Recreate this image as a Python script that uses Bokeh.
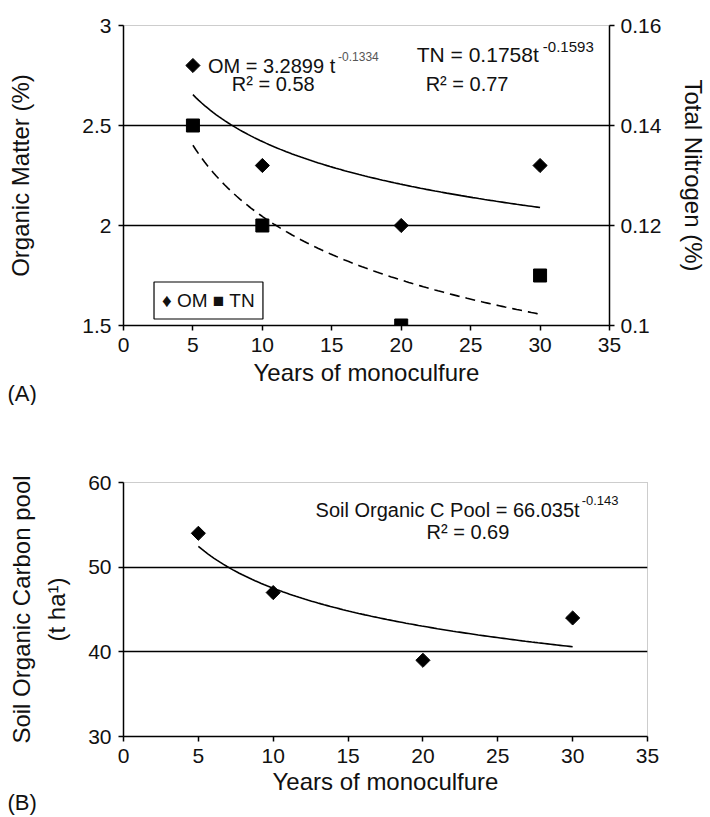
import numpy as np
from bokeh.plotting import figure
from bokeh.models import Range1d, LinearAxis, FixedTicker, CustomJSTickFormatter, Label, Title
from bokeh.layouts import column
from bokeh.embed import file_html
from bokeh.resources import INLINE

FONT = "Liberation Sans"

# ---- data ----
years = [5, 10, 20, 30]
om = [2.8, 2.3, 2.0, 2.3]          # Organic matter (%)
tn = [0.14, 0.12, 0.10, 0.11]      # Total nitrogen (%)
soc = [54, 47, 39, 44]             # Soil organic C pool (t/ha)

x_ticks = [0, 5, 10, 15, 20, 25, 30, 35]
om_ticks = [1.5, 2, 2.5, 3]
tn_ticks = [0.1, 0.12, 0.14, 0.16]
soc_ticks = [30, 40, 50, 60]

# power-law trend lines printed on the chart: y = a * t^b
om_fit = (3.2899, -0.1334)
tn_fit = (0.1758, -0.1593)
soc_fit = (66.035, -0.143)
fit_span = (5, 30)

t = np.linspace(fit_span[0], fit_span[1], 120)
fmt = CustomJSTickFormatter(code="return String(tick)")


def style_axis(ax, ticks, label=None, standoff=10):
    ax.ticker = FixedTicker(ticks=ticks)
    ax.formatter = fmt
    ax.axis_line_color = "black"
    ax.axis_line_width = 1.5
    ax.major_tick_line_color = "black"
    ax.major_tick_line_width = 1.5
    ax.major_tick_in = 0
    ax.major_tick_out = 5
    ax.minor_tick_line_color = None
    ax.major_label_text_font = FONT
    ax.major_label_text_font_size = "21px"
    ax.major_label_text_color = "#111111"
    ax.major_label_standoff = 7
    ax.axis_label = label
    ax.axis_label_standoff = standoff
    ax.axis_label_text_font = FONT
    ax.axis_label_text_font_size = "24px"
    ax.axis_label_text_font_style = "normal"
    ax.axis_label_text_color = "#111111"


def lab(p, x, y, text, size, align="left", color="#111111", **kw):
    p.add_layout(Label(x=x, y=y, text=text, text_font=FONT, text_font_size=size,
                       text_align=align, text_baseline="middle",
                       text_color=color, **kw))


def panel_tag(p, text):
    p.add_layout(Title(text=text, align="left", offset=-116, standoff=-20,
                       vertical_align="bottom", text_font=FONT, text_font_size="22px",
                       text_font_style="normal", text_color="#111111"), "below")


def base_fig(width, height, ylo, yhi, borders):
    p = figure(width=width, height=height, x_range=Range1d(0, 35), y_range=Range1d(ylo, yhi),
               output_backend="svg", toolbar_location=None,
               min_border_left=borders[0], min_border_right=borders[1],
               min_border_top=borders[2], min_border_bottom=borders[3])
    if "frame_align" in p.properties():
        p.frame_align = False
    p.background_fill_color = "white"
    p.border_fill_color = "white"
    p.outline_line_color = "#9a9a9a"
    p.outline_line_width = 1
    p.outline_line_dash = "1 1"
    p.xgrid.visible = False
    p.ygrid.grid_line_color = "black"
    p.ygrid.grid_line_width = 1.3
    return p


# ================= Panel A =================
pA = base_fig(710, 405, om_ticks[0], om_ticks[-1], (123, 98, 25, 80))
style_axis(pA.xaxis[0], x_ticks, "Years of monoculfure", 4)
style_axis(pA.yaxis[0], om_ticks, "Organic Matter (%)", 45)
pA.ygrid.ticker = FixedTicker(ticks=om_ticks[1:-1])
pA.extra_y_ranges = {"tn": Range1d(tn_ticks[0], tn_ticks[-1])}
ax_r = LinearAxis(y_range_name="tn")
style_axis(ax_r, tn_ticks, "Total Nitrogen (%)", 16)
ax_r.major_label_standoff = 6
pA.add_layout(ax_r, "right")

pA.line(t, om_fit[0] * t ** om_fit[1], line_color="black", line_width=1.6)
pA.line(t, tn_fit[0] * t ** tn_fit[1], line_color="black", line_width=1.6,
        line_dash="10 6", y_range_name="tn")
pA.scatter(years, om, marker="square", angle=np.pi / 4, size=10, color="black")
pA.scatter(years, tn, marker="square", size=13, color="black", y_range_name="tn")

lab(pA, 6.08, 2.80, "OM = 3.2899 t", "20px")
lab(pA, 15.45, 2.845, "-0.1334", "12px", color="#555555")
lab(pA, 7.8, 2.71, "R² = 0.58", "20px")
lab(pA, 21.12, 2.855, "TN = 0.1758t", "21px")
lab(pA, 30.2, 2.895, "-0.1593", "15px")
lab(pA, 21.76, 2.71, "R² = 0.77", "20px")

lab(pA, 6.12, 1.625, "♦ OM ■ TN", "19px", align="center",
    border_line_color="black", border_line_width=1.2,
    background_fill_color="white", padding=8)
panel_tag(pA, "(A)")

# ================= Panel B =================
pB = base_fig(710, 412, soc_ticks[0], soc_ticks[-1], (123, 63, 77, 81))
style_axis(pB.xaxis[0], x_ticks, "Years of monoculfure", 2)
style_axis(pB.yaxis[0], soc_ticks, "Soil Organic Carbon pool\n(t ha¹)", 15)
pB.yaxis[0].axis_label_text_line_height = 1.3
pB.ygrid.ticker = FixedTicker(ticks=soc_ticks[1:-1])

pB.line(t, soc_fit[0] * t ** soc_fit[1], line_color="black", line_width=1.6)
pB.scatter(years, soc, marker="square", angle=np.pi / 4, size=10, color="black")

lab(pB, 12.83, 56.8, "Soil Organic C Pool = 66.035t", "20px")
lab(pB, 30.6, 57.9, "-0.143", "13px")
lab(pB, 20.24, 54.2, "R² = 0.69", "20px")
panel_tag(pB, "(B)")

layout = column(pA, pB)
open("out.html", "w").write(file_html(layout, INLINE))
